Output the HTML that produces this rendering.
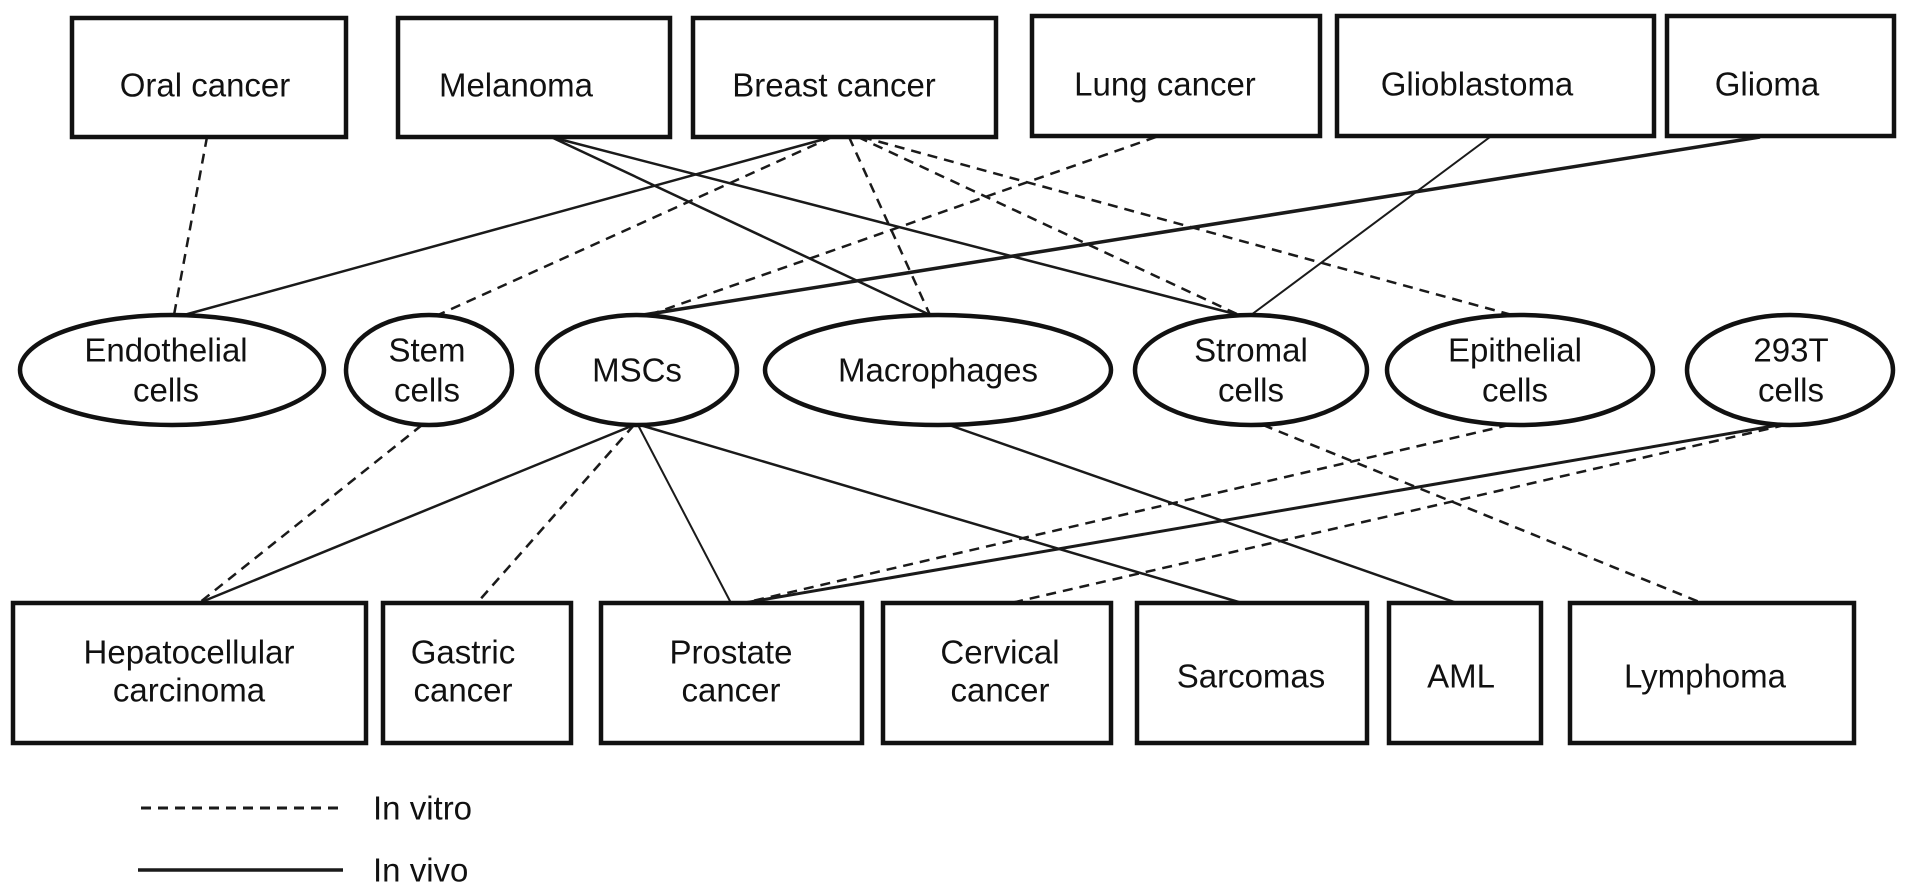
<!DOCTYPE html>
<html><head><meta charset="utf-8"><style>
html,body{margin:0;padding:0;background:#fff;}
svg{display:block;}
text{font-family:"Liberation Sans",Arial,sans-serif;font-size:33px;fill:#111;text-anchor:middle;dominant-baseline:central;}
</style></head><body>
<svg width="1913" height="891" viewBox="0 0 1913 891" xmlns="http://www.w3.org/2000/svg">
<g fill="none" stroke="#1a1a1a" stroke-width="2.5">
  <line x1="207" y1="137" x2="174" y2="315" stroke-dasharray="10,7"/>
  <line x1="551" y1="137" x2="930" y2="315"/>
  <line x1="551" y1="137" x2="1239" y2="315"/>
  <line x1="832" y1="137" x2="184" y2="315"/>
  <line x1="832" y1="137" x2="438" y2="315" stroke-dasharray="10,7"/>
  <line x1="849" y1="137" x2="930" y2="315" stroke-dasharray="10,7"/>
  <line x1="858" y1="137" x2="1239" y2="315" stroke-dasharray="10,7"/>
  <line x1="862" y1="137" x2="1512" y2="315" stroke-dasharray="10,7"/>
  <line x1="1156" y1="137" x2="649" y2="315" stroke-dasharray="10,7"/>
  <line x1="1490" y1="137" x2="1251" y2="315" stroke-width="2"/>
  <line x1="1760" y1="137" x2="643" y2="315" stroke-width="3.5"/>
  <line x1="422" y1="425" x2="199" y2="603" stroke-dasharray="10,7"/>
  <line x1="634" y1="425" x2="199" y2="603"/>
  <line x1="634" y1="425" x2="477" y2="603" stroke-dasharray="10,7"/>
  <line x1="638" y1="425" x2="731" y2="603" stroke-width="2"/>
  <line x1="640" y1="425" x2="1242" y2="603"/>
  <line x1="949" y1="425" x2="1457" y2="603"/>
  <line x1="1263" y1="425" x2="1702" y2="603" stroke-dasharray="10,7"/>
  <line x1="1509" y1="425" x2="744" y2="603" stroke-dasharray="10,7"/>
  <line x1="1779" y1="425" x2="744" y2="603" stroke-width="3"/>
  <line x1="1785" y1="425" x2="1011" y2="603" stroke-dasharray="10,7"/>
  <line x1="141" y1="808" x2="340" y2="808" stroke-dasharray="10,7" stroke-width="3"/>
  <line x1="138" y1="870" x2="343" y2="870" stroke-width="3.5"/>
</g>
<g fill="#fff" stroke="#111" stroke-width="4.5">
  <rect x="72" y="18" width="274" height="119"/>
  <rect x="398" y="18" width="272" height="119"/>
  <rect x="693" y="18" width="303" height="119"/>
  <rect x="1032" y="16" width="288" height="120"/>
  <rect x="1337" y="16" width="317" height="120"/>
  <rect x="1667" y="16" width="227" height="120"/>

  <ellipse cx="172" cy="370" rx="152" ry="55"/>
  <ellipse cx="429" cy="370" rx="83" ry="55"/>
  <ellipse cx="637" cy="370" rx="100" ry="55"/>
  <ellipse cx="938" cy="370" rx="173" ry="55"/>
  <ellipse cx="1251" cy="370" rx="116" ry="55"/>
  <ellipse cx="1520" cy="370" rx="133" ry="55"/>
  <ellipse cx="1790" cy="370" rx="103" ry="55"/>

  <rect x="13" y="603" width="353" height="140"/>
  <rect x="383" y="603" width="188" height="140"/>
  <rect x="601" y="603" width="261" height="140"/>
  <rect x="883" y="603" width="228" height="140"/>
  <rect x="1137" y="603" width="230" height="140"/>
  <rect x="1389" y="603" width="152" height="140"/>
  <rect x="1570" y="603" width="284" height="140"/>
</g>
<g>
  <text x="205" y="85">Oral cancer</text>
  <text x="516" y="85">Melanoma</text>
  <text x="834" y="85">Breast cancer</text>
  <text x="1165" y="84">Lung cancer</text>
  <text x="1477" y="84">Glioblastoma</text>
  <text x="1767" y="84">Glioma</text>

  <text x="166" y="350">Endothelial</text>
  <text x="166" y="390">cells</text>
  <text x="427" y="350">Stem</text>
  <text x="427" y="390">cells</text>
  <text x="637" y="370">MSCs</text>
  <text x="938" y="370">Macrophages</text>
  <text x="1251" y="350">Stromal</text>
  <text x="1251" y="390">cells</text>
  <text x="1515" y="350">Epithelial</text>
  <text x="1515" y="390">cells</text>
  <text x="1791" y="350">293T</text>
  <text x="1791" y="390">cells</text>

  <text x="189" y="652">Hepatocellular</text>
  <text x="189" y="690">carcinoma</text>
  <text x="463" y="652">Gastric</text>
  <text x="463" y="690">cancer</text>
  <text x="731" y="652">Prostate</text>
  <text x="731" y="690">cancer</text>
  <text x="1000" y="652">Cervical</text>
  <text x="1000" y="690">cancer</text>
  <text x="1251" y="676">Sarcomas</text>
  <text x="1461" y="676">AML</text>
  <text x="1705" y="676">Lymphoma</text>

  <text x="373" y="808" style="text-anchor:start">In vitro</text>
  <text x="373" y="870" style="text-anchor:start">In vivo</text>
</g>
</svg>
</body></html>
